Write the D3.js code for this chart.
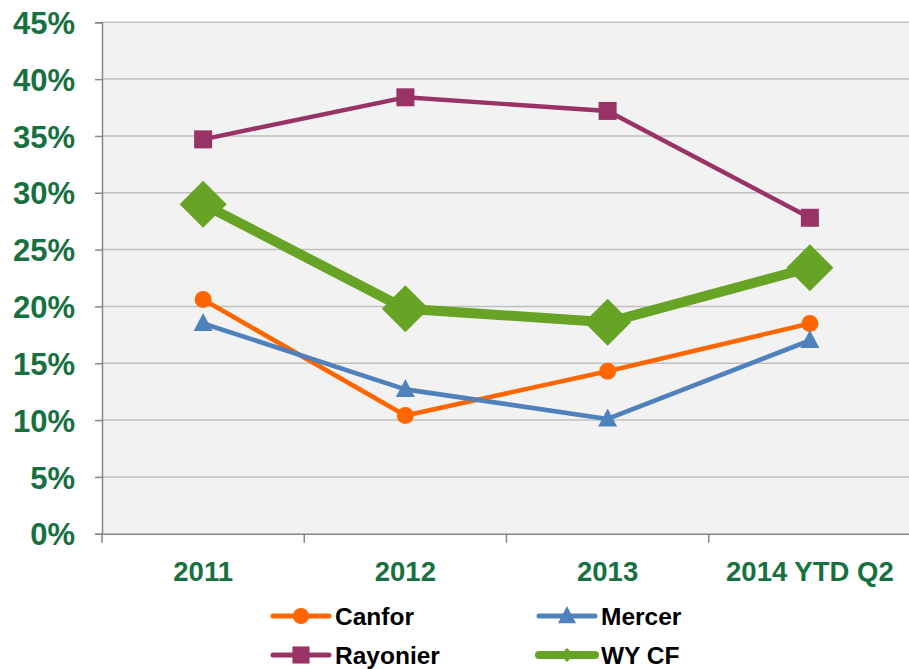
<!DOCTYPE html>
<html><head><meta charset="utf-8">
<script src="https://cdn.jsdelivr.net/npm/d3@7"></script>
<style>body{margin:0;background:#fff;}svg{display:block;font-family:"Liberation Sans",Arial,sans-serif;font-weight:bold;}</style>
</head><body>
<script>
const categories = ["2011", "2012", "2013", "2014 YTD Q2"];
const canfor = [20.6, 10.4, 14.3, 18.5];
const mercer = [18.5, 12.7, 10.1, 17.0];
const rayonier = [34.7, 38.4, 37.2, 27.8];
const wycf = [29.0, 19.8, 18.6, 23.4];
const yTicks = [0, 5, 10, 15, 20, 25, 30, 35, 40, 45];

const series = [
  {name: "Canfor", values: canfor, color: "#FF6600", width: 4.6, marker: "circle"},
  {name: "Mercer", values: mercer, color: "#4F81BD", width: 4.6, marker: "triangle"},
  {name: "Rayonier", values: rayonier, color: "#993366", width: 4.4, marker: "square"},
  {name: "WY CF", values: wycf, color: "#67A325", width: 10, marker: "diamond"}
];

const W = 909, H = 669;
const svg = d3.select("body").append("svg").attr("width", W).attr("height", H);
const pLeft = 102, pRight = 911, pTop = 22.3, pBottom = 533.7;

const x = d3.scaleBand().domain(categories).range([pLeft, pRight]);
const y = d3.scaleLinear().domain([0, 45]).range([pBottom, pTop]);

svg.append("rect").attr("x", pLeft).attr("y", pTop).attr("width", pRight - pLeft).attr("height", pBottom - pTop).attr("fill", "#F2F2F2");

// gridlines
svg.append("g").selectAll("line").data(yTicks.filter(d => d > 0)).join("line")
  .attr("x1", pLeft).attr("x2", pRight).attr("y1", d => y(d)).attr("y2", d => y(d))
  .attr("stroke", "#BFBFBF").attr("stroke-width", 1.5);

// y axis
const yAxis = svg.append("g").attr("transform", `translate(${pLeft},0)`)
  .call(d3.axisLeft(y).tickValues(yTicks).tickFormat(d => d + "%").tickSize(7).tickPadding(20));
yAxis.select(".domain").attr("stroke", "#868686").attr("stroke-width", 1.5);
yAxis.selectAll(".tick line").attr("stroke", "#868686").attr("stroke-width", 1.5);
yAxis.selectAll("text").attr("fill", "#17703F").attr("font-size", 31).attr("font-weight", "bold")
  .attr("font-family", "Liberation Sans, Arial, sans-serif").attr("dy", "0.36em");

// x axis
const xAxis = svg.append("g").attr("transform", `translate(0,${pBottom})`)
  .call(d3.axisBottom(x).tickSize(0).tickPadding(28));
xAxis.select(".domain").attr("stroke", "#868686").attr("stroke-width", 1.5);
xAxis.selectAll("text").attr("fill", "#17703F").attr("font-size", 27.5).attr("font-weight", "bold")
  .attr("font-family", "Liberation Sans, Arial, sans-serif").attr("dy", "0.71em");
// category boundary ticks
const bounds = categories.map(c => x(c)).concat([x(categories[categories.length - 1]) + x.bandwidth()]);
svg.append("g").selectAll("line").data(bounds).join("line")
  .attr("x1", d => d).attr("x2", d => d).attr("y1", pBottom).attr("y2", pBottom + 9)
  .attr("stroke", "#868686").attr("stroke-width", 1.5);

const cx = c => x(c) + x.bandwidth() / 2;

function drawMarker(g, type, px, py, color, scale) {
  if (type === "circle") {
    g.append("circle").attr("cx", px).attr("cy", py).attr("r", 8.5 * scale).attr("fill", color);
  } else if (type === "square") {
    const s = 18 * scale;
    g.append("rect").attr("x", px - s / 2).attr("y", py - s / 2).attr("width", s).attr("height", s).attr("fill", color);
  } else if (type === "triangle") {
    const s = 9.5 * scale;
    g.append("path").attr("d", `M${px},${py - s * 1.1}L${px + s},${py + s * 0.8}L${px - s},${py + s * 0.8}Z`).attr("fill", color);
  } else if (type === "diamond") {
    const s = 23.5 * scale;
    g.append("path").attr("d", `M${px},${py - s}L${px + s},${py}L${px},${py + s}L${px - s},${py}Z`).attr("fill", color);
  }
}

const line = d3.line().x((d, i) => cx(categories[i])).y(d => y(d));
const order = [series[2], series[3], series[0], series[1]];
order.forEach(s => {
  const g = svg.append("g");
  g.append("path").attr("d", line(s.values)).attr("fill", "none").attr("stroke", s.color)
    .attr("stroke-width", s.width).attr("stroke-linejoin", "round");
  s.values.forEach((v, i) => drawMarker(g, s.marker, cx(categories[i]), y(v), s.color, 1));
});

// legend
const legendPos = [
  {s: series[0], lx: 273, ly: 616},
  {s: series[1], lx: 539, ly: 616},
  {s: series[2], lx: 273, ly: 655},
  {s: series[3], lx: 539, ly: 655}
];
legendPos.forEach(p => {
  const g = svg.append("g");
  g.append("line").attr("x1", p.lx).attr("x2", p.lx + 56).attr("y1", p.ly).attr("y2", p.ly)
    .attr("stroke", p.s.color).attr("stroke-width", p.s.marker === "diamond" ? 8 : 5).attr("stroke-linecap", "round");
  drawMarker(g, p.s.marker, p.lx + 28, p.ly, p.s.color, p.s.marker === "diamond" ? 0.3 : 0.95);
  g.append("text").attr("x", p.lx + 62).attr("y", p.ly).attr("dy", "0.36em")
    .attr("font-size", 24.5).attr("fill", "#000").text(p.s.name);
});
</script>
</body></html>
